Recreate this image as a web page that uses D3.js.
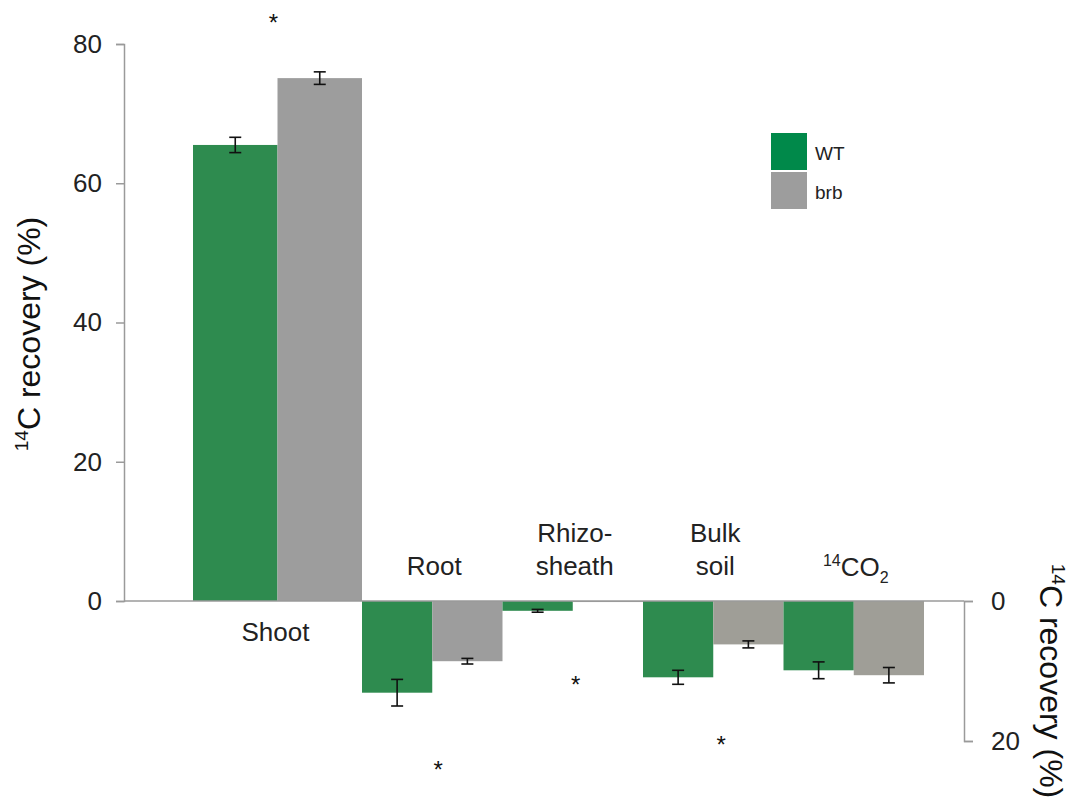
<!DOCTYPE html>
<html>
<head>
<meta charset="utf-8">
<script src="https://cdn.jsdelivr.net/npm/d3@7"></script>
<style>
  body { margin: 0; background: #fff; }
  svg { font-family: "Liberation Sans", Arial, sans-serif; }
</style>
</head>
<body>
<svg id="chart"></svg>
<script>
// shoot plotted upward on the left axis, the rest downward on the right axis
const topCategories = ["Shoot"];
const bottomCategories = ["Root", "Rhizo-sheath", "Bulk soil", "14CO2"];
const series = ["WT", "brb"];

const shootWT = [65.5];
const shootWTErr = [1.1];
const shootBrb = [75.1];
const shootBrbErr = [0.9];

const belowWT = [13.1, 1.4, 10.9, 9.9];
const belowWTErr = [1.9, 0.2, 1.0, 1.2];
const belowBrb = [8.6, 0.15, 6.2, 10.6];
const belowBrbErr = [0.4, 0, 0.5, 1.1];

const leftTicks = [0, 20, 40, 60, 80];
const rightTicks = [0, 20];

const width = 1075, height = 805;
const green = "#2e8b4f";
const grayCool = "#9d9d9d";
const grayWarm = "#9f9e97";
const brbColors = [grayCool, grayCool, grayWarm, grayWarm];

const svg = d3.select("#chart")
    .attr("width", width)
    .attr("height", height)
    .attr("viewBox", `0 0 ${width} ${height}`);

const yTop = d3.scaleLinear().domain([0, 80]).range([601, 44]);
const yBottom = d3.scaleLinear().domain([0, 20]).range([601, 741]);

const xTop = d3.scaleBand().domain(topCategories).range([193, 362]).padding(0);
const xBottom = d3.scaleBand().domain(bottomCategories).range([362, 924]).padding(0);
const xTopInner = d3.scaleBand().domain(series).range([0, xTop.bandwidth()]);
const xBottomInner = d3.scaleBand().domain(series).range([0, xBottom.bandwidth()]);

// bars
const topRows = topCategories.flatMap((c, i) => [
    { cat: c, s: "WT", v: shootWT[i], e: shootWTErr[i], color: green },
    { cat: c, s: "brb", v: shootBrb[i], e: shootBrbErr[i], color: grayCool }
]);
const bottomRows = bottomCategories.flatMap((c, i) => [
    { cat: c, s: "WT", v: belowWT[i], e: belowWTErr[i], color: green },
    { cat: c, s: "brb", v: belowBrb[i], e: belowBrbErr[i], color: brbColors[i] }
]);

svg.append("g").selectAll("rect")
    .data(topRows)
    .join("rect")
    .attr("x", d => xTop(d.cat) + xTopInner(d.s))
    .attr("y", d => yTop(d.v))
    .attr("width", xTopInner.bandwidth())
    .attr("height", d => yTop(0) - yTop(d.v))
    .attr("fill", d => d.color);

svg.append("g").selectAll("rect")
    .data(bottomRows)
    .join("rect")
    .attr("x", d => xBottom(d.cat) + xBottomInner(d.s))
    .attr("y", yBottom(0))
    .attr("width", xBottomInner.bandwidth())
    .attr("height", d => yBottom(d.v) - yBottom(0))
    .attr("fill", d => d.color);

// error bars
function errorBar(g, cx, y1, y2) {
    g.append("line").attr("x1", cx).attr("x2", cx).attr("y1", y1).attr("y2", y2);
    g.append("line").attr("x1", cx - 6).attr("x2", cx + 6).attr("y1", y1).attr("y2", y1);
    g.append("line").attr("x1", cx - 6).attr("x2", cx + 6).attr("y1", y2).attr("y2", y2);
}
const errG = svg.append("g").attr("stroke", "#111").attr("stroke-width", 1.6);
topRows.forEach(d => {
    const cx = xTop(d.cat) + xTopInner(d.s) + xTopInner.bandwidth() / 2;
    errorBar(errG, cx, yTop(d.v + d.e), yTop(d.v - d.e));
});
bottomRows.filter(d => d.e > 0).forEach(d => {
    const cx = xBottom(d.cat) + xBottomInner(d.s) + xBottomInner.bandwidth() / 2;
    errorBar(errG, cx, yBottom(d.v - d.e), yBottom(d.v + d.e));
});

// baseline
svg.append("line")
    .attr("x1", 124).attr("x2", 964)
    .attr("y1", yTop(0)).attr("y2", yTop(0))
    .attr("stroke", "#9a9a9a").attr("stroke-width", 1.5);

// left axis
const leftAxis = svg.append("g")
    .attr("transform", "translate(124,0)")
    .call(d3.axisLeft(yTop).tickValues(leftTicks).tickSize(8).tickPadding(14));
leftAxis.select(".domain").attr("stroke", "#9a9a9a").attr("stroke-width", 1.5);
leftAxis.selectAll(".tick line").attr("stroke", "#9a9a9a").attr("stroke-width", 1.5);
leftAxis.selectAll(".tick text").attr("font-size", 26).attr("fill", "#222")
    .attr("font-family", "Liberation Sans, Arial, sans-serif");

// right axis
const rightAxis = svg.append("g")
    .attr("transform", "translate(964,0)")
    .call(d3.axisRight(yBottom).tickValues(rightTicks).tickSize(9).tickPadding(18));
rightAxis.select(".domain").attr("stroke", "#9a9a9a").attr("stroke-width", 1.5);
rightAxis.selectAll(".tick line").attr("stroke", "#9a9a9a").attr("stroke-width", 1.5);
rightAxis.selectAll(".tick text").attr("font-size", 26).attr("fill", "#222")
    .attr("font-family", "Liberation Sans, Arial, sans-serif");

// axis titles
function recoveryTitle(sel) {
    sel.append("tspan").attr("font-size", 19).attr("dy", -12).text("14");
    sel.append("tspan").attr("dy", 12).text("C recovery (%)");
}
svg.append("text")
    .attr("transform", "translate(40,334) rotate(-90)")
    .attr("text-anchor", "middle")
    .attr("font-size", 32).attr("fill", "#111")
    .call(recoveryTitle);
svg.append("text")
    .attr("transform", "translate(1040,681) rotate(90)")
    .attr("text-anchor", "middle")
    .attr("font-size", 32).attr("fill", "#111")
    .call(recoveryTitle);

// category labels
const labelColor = "#222";
const labelSize = 26;
svg.append("text")
    .attr("x", xTop("Shoot") + xTop.bandwidth() / 2 - 2)
    .attr("y", 641)
    .attr("text-anchor", "middle").attr("font-size", labelSize).attr("fill", labelColor)
    .text("Shoot");

const labelLines = {
    "Root": ["Root"],
    "Rhizo-sheath": ["Rhizo-", "sheath"],
    "Bulk soil": ["Bulk", "soil"]
};
Object.entries(labelLines).forEach(([cat, lines]) => {
    const t = svg.append("text")
        .attr("text-anchor", "middle").attr("font-size", labelSize).attr("fill", labelColor);
    const cx = xBottom(cat) + xBottom.bandwidth() / 2 + 2;
    const y0 = 575 - (lines.length - 1) * 33;
    lines.forEach((l, i) => {
        t.append("tspan").attr("x", cx).attr("y", y0 + i * 33).text(l);
    });
});
const co2 = svg.append("text")
    .attr("x", xBottom("14CO2") + xBottom.bandwidth() / 2 + 2)
    .attr("y", 576)
    .attr("text-anchor", "middle").attr("font-size", labelSize).attr("fill", labelColor);
co2.append("tspan").attr("font-size", 16).attr("dy", -10).text("14");
co2.append("tspan").attr("dy", 10).text("CO");
co2.append("tspan").attr("font-size", 16).attr("dy", 7).text("2");

// significance asterisks
const stars = [
    { x: xTop("Shoot") + xTop.bandwidth() / 2 - 4, y: yTop(83.7) },
    { x: xBottom("Root") + xBottom.bandwidth() / 2 + 6, y: yBottom(23.4) },
    { x: xBottom("Rhizo-sheath") + xBottom.bandwidth() / 2 + 3, y: yBottom(11.3) },
    { x: xBottom("Bulk soil") + xBottom.bandwidth() / 2 + 8, y: yBottom(19.9) }
];
svg.append("g").selectAll("text")
    .data(stars)
    .join("text")
    .attr("x", d => d.x).attr("y", d => d.y + 13)
    .attr("text-anchor", "middle")
    .attr("font-size", 24).attr("fill", "#111")
    .text("*");

// legend
const legend = svg.append("g").attr("transform", "translate(771,133)");
const legendColors = ["#00894a", "#9d9d9d"];
series.forEach((s, i) => {
    legend.append("rect")
        .attr("x", 0).attr("y", i * 39)
        .attr("width", 36).attr("height", 37)
        .attr("fill", legendColors[i]);
    legend.append("text")
        .attr("x", 44).attr("y", i * 39 + 27)
        .attr("font-size", 19).attr("fill", "#222")
        .text(s);
});
</script>
</body>
</html>
